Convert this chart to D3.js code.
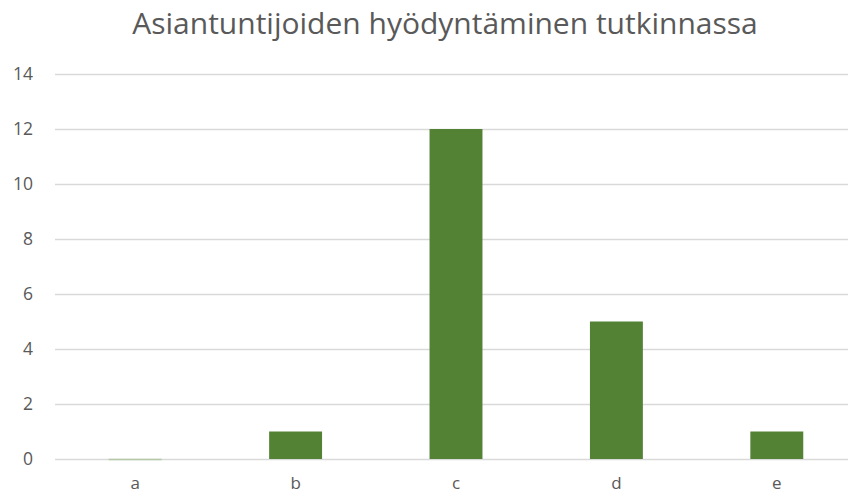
<!DOCTYPE html>
<html>
<head>
<meta charset="utf-8">
<script src="https://cdn.jsdelivr.net/npm/d3@7"></script>
<style>
  body { margin: 0; background: #fff; }
  svg { display: block; font-family: "Open Sans", Lato, sans-serif; }
</style>
</head>
<body>
<div id="chart"></div>
<script>
const categories = ["a", "b", "c", "d", "e"]
const values = [0, 1, 12, 5, 1]
const yTicks = [0, 2, 4, 6, 8, 10, 12, 14]
const title = "Asiantuntijoiden hyödyntäminen tutkinnassa"

let width = 848
let height = 495
const margin = { top: 74, left: 55, right: -9, bottom: 36 }

let svg = d3.select("#chart")
  .append("svg")
  .attr("width", width)
  .attr("height", height)

let x = d3.scaleBand()
  .domain(categories)
  .range([margin.left, width - margin.right])
  .paddingInner(0.67)
  .paddingOuter(0.335)

let y = d3.scaleLinear()
  .domain([0, 14])
  .range([height - margin.bottom, margin.top])

// gridlines
svg.append("g")
  .selectAll("line")
  .data(yTicks)
  .enter().append("line")
  .attr("x1", margin.left)
  .attr("x2", width - margin.right)
  .attr("y1", d => Math.round(y(d)) + 0.5)
  .attr("y2", d => Math.round(y(d)) + 0.5)
  .attr("stroke", "#d9d9d9")
  .attr("stroke-width", 1.5)

// y labels
svg.append("g")
  .selectAll("text")
  .data(yTicks)
  .enter().append("text")
  .attr("x", 33)
  .attr("y", d => y(d))
  .attr("dy", "0.35em")
  .attr("text-anchor", "end")
  .attr("fill", "#595959")
  .attr("font-size", 17.5)
  .text(d => d)

// bars
svg.append("g")
  .selectAll("rect")
  .data(values)
  .enter().append("rect")
  .attr("x", (d, i) => x(categories[i]))
  .attr("width", x.bandwidth())
  .attr("y", d => y(d))
  .attr("height", d => y(0) - y(d))
  .attr("fill", "#548235")

// zero-value marks
svg.append("g")
  .selectAll("line")
  .data(categories.filter((c, i) => values[i] === 0))
  .enter().append("line")
  .attr("x1", d => x(d))
  .attr("x2", d => x(d) + x.bandwidth())
  .attr("y1", Math.round(y(0)) + 0.5)
  .attr("y2", Math.round(y(0)) + 0.5)
  .attr("stroke", "#b5c9a8")
  .attr("stroke-width", 1.5)

// x labels
svg.append("g")
  .selectAll("text")
  .data(categories)
  .enter().append("text")
  .attr("x", d => x(d) + x.bandwidth() / 2)
  .attr("y", 489)
  .attr("text-anchor", "middle")
  .attr("fill", "#595959")
  .attr("font-size", 17)
  .text(d => d)

svg.append("text")
  .attr("x", 445)
  .attr("y", 34)
  .attr("text-anchor", "middle")
  .attr("fill", "#595959")
  .attr("font-size", 30)
  .text(title)
</script>
</body>
</html>
